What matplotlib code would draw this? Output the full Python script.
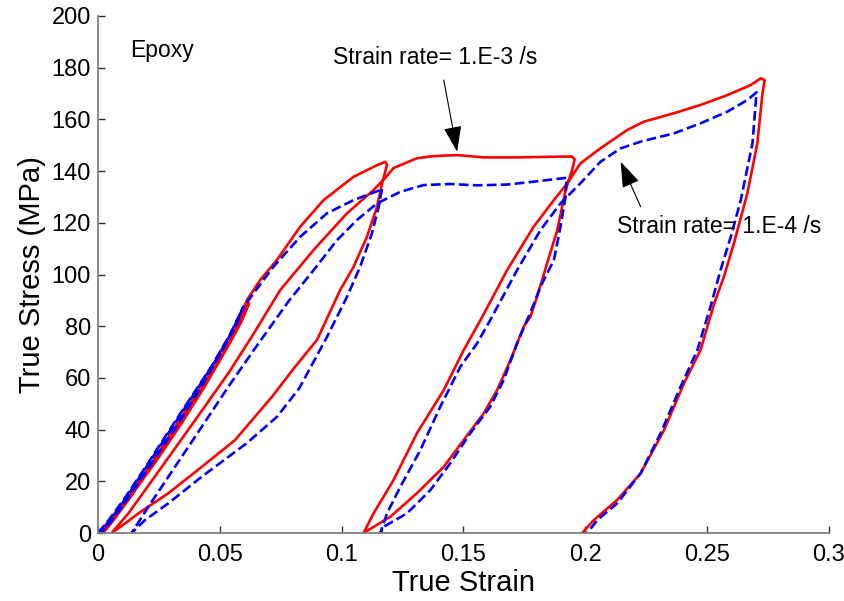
import matplotlib
matplotlib.use("Agg")
import matplotlib.pyplot as plt

plt.rcParams['font.family'] = ['Liberation Sans', 'DejaVu Sans']

# ---- data: strain rate 1.E-3 /s (red, solid) ----
red_strain = [0, 0.004, 0.012, 0.021, 0.030, 0.039, 0.048, 0.056, 0.062,
              0.059, 0.052, 0.044, 0.034, 0.024, 0.014, 0.006, 0.002,
              0.006, 0.013, 0.022, 0.031, 0.040, 0.049, 0.056, 0.0611, 0.0666, 0.0734, 0.0830, 0.0926, 0.1049, 0.115, 0.1179, 0.1186,
              0.1166, 0.1145, 0.1104, 0.1049, 0.0994, 0.0899, 0.0809, 0.0714, 0.0563, 0.0426, 0.0289, 0.0166, 0.0111, 0.0056,
              0.0125, 0.0262, 0.0399, 0.0535, 0.0635, 0.0748, 0.0885, 0.1022, 0.1131, 0.1180, 0.1213, 0.131, 0.1378, 0.1474, 0.1583, 0.172, 0.1898, 0.1946, 0.1956,
              0.1946, 0.1919, 0.1885, 0.1843, 0.1802, 0.1775, 0.1747, 0.1693, 0.1638, 0.1583, 0.1501, 0.1419, 0.1309, 0.12, 0.109,
              0.1131, 0.1213, 0.1309, 0.1419, 0.1501, 0.157, 0.1679, 0.1788, 0.1871, 0.1926, 0.198, 0.2062, 0.2172, 0.224, 0.2364, 0.2473, 0.2583, 0.2679, 0.272, 0.2736,
              0.2727, 0.2706, 0.2665, 0.261, 0.2569, 0.2528, 0.2473, 0.2405, 0.2323, 0.2227, 0.2131, 0.2035, 0.1987]
red_stress = [0, 4, 12.8, 25.5, 38.6, 51.5, 64.3, 77, 89,
              82, 70, 57, 42, 28, 15, 5, 0,
              4.5, 13.5, 26.5, 39.5, 52.5, 65.5, 77.5, 90.1, 97.9, 105.6, 118.5, 128.8, 137.8, 142.5, 143.6, 142.4,
              135.3, 126.2, 114.6, 103, 94, 74.7, 64.3, 52.7, 36, 25.6, 15.4, 7.6, 3.7, 0,
              7.6, 25.6, 43.7, 61.8, 76.5, 94, 109.5, 123.7, 132.7, 137.5, 141.2, 145, 145.8, 146.2, 145.3, 145.3, 145.6, 145.6, 144.5,
              140.4, 132.7, 117.2, 104.3, 91.4, 83.7, 79.8, 66.9, 55.3, 46.3, 36, 25.6, 15.4, 6.3, 0,
              7.6, 20.5, 38.6, 55.3, 70.8, 82.4, 101.7, 118.5, 128.8, 135.3, 143, 148.8, 155.9, 159.1, 162.4, 165.6, 169.4, 173.3, 175.9, 175.2,
              170.1, 150.8, 131.4, 112.1, 99.2, 88.5, 70.8, 57.9, 39.8, 23.1, 12.8, 5, 0]

# ---- data: strain rate 1.E-4 /s (blue, dashed) ----
blue_strain = [0, 0.004, 0.0105, 0.0195, 0.0285, 0.0375, 0.0465, 0.054, 0.0597,
               0.057, 0.050, 0.042, 0.032, 0.022, 0.013, 0.005, 0.001,
               0.005, 0.0115, 0.0205, 0.0295, 0.0385, 0.0475, 0.0545, 0.0597, 0.072, 0.083, 0.094, 0.1049, 0.1159, 0.1166,
               0.1152, 0.1124, 0.1076, 0.1022, 0.094, 0.0826, 0.0735, 0.061, 0.0426, 0.0289, 0.0193, 0.0138,
               0.0207, 0.0316, 0.0426, 0.0535, 0.0659, 0.0785, 0.0885, 0.0981, 0.1063, 0.1145, 0.1241, 0.1337, 0.1446, 0.1556, 0.1679, 0.1788, 0.1923,
               0.1919, 0.1898, 0.1871, 0.1816, 0.1782, 0.172, 0.1665, 0.161, 0.1528, 0.1446, 0.1364, 0.1268, 0.1172, 0.1159,
               0.1186, 0.1241, 0.1323, 0.1405, 0.1487, 0.1556, 0.161, 0.172, 0.1816, 0.1898, 0.198, 0.2062, 0.2145, 0.2227, 0.2364, 0.2473, 0.2583, 0.2665, 0.2703,
               0.2699, 0.2686, 0.2638, 0.2597, 0.2555, 0.2515, 0.246, 0.2391, 0.2309, 0.2227, 0.2131, 0.2049, 0.2008]
blue_stress = [0, 4.5, 12.8, 25.5, 38.6, 51.5, 64.3, 76.5, 87.5,
               81, 69, 56, 41, 27, 14.5, 4, 0,
               5, 13.5, 26.5, 39.5, 52.5, 65.5, 77, 87.5, 103, 114.6, 123.7, 128.8, 132.7, 133.3,
               126.2, 115.9, 103, 91.4, 75.9, 56, 45, 34.7, 21.8, 11.5, 5, 0,
               10.2, 25.6, 41.1, 56.6, 73.4, 90, 101.7, 113.3, 121.1, 127.5, 132, 134.6, 135, 134.5, 134.8, 135.9, 137.4,
               130.1, 118.5, 105.6, 95.3, 87, 73.4, 59.2, 48.9, 38.6, 27, 16.6, 7.6, 2.4, 0,
               7.6, 17.9, 32.1, 48.9, 64.3, 73.4, 82.4, 101.7, 117.2, 127.5, 135.3, 143.6, 148.8, 151.4, 154.6, 158.5, 163, 167.5, 170.5,
               166.2, 150.8, 128.8, 114.6, 101.7, 88, 70.8, 56.6, 38.6, 23.1, 11.5, 5, 0]

x_ticks = [0, 0.05, 0.1, 0.15, 0.2, 0.25, 0.3]
x_tick_labels = ['0', '0.05', '0.1', '0.15', '0.2', '0.25', '0.3']
y_ticks = [0, 20, 40, 60, 80, 100, 120, 140, 160, 180, 200]

fig = plt.figure(figsize=(8.45, 6.01), dpi=100)
ax = fig.add_axes([98/845, 1 - 533/601, (829 - 98)/845, (533 - 16)/601])

ax.plot(red_strain, red_stress, color='#ff0000', lw=1.9, solid_joinstyle='round')
ax.plot(blue_strain, blue_stress, color='#0000ff', lw=1.9, ls='--')

ax.set_xlim(0, 0.3)
ax.set_ylim(0, 200)
ax.set_xticks(x_ticks)
ax.set_xticklabels(x_tick_labels)
ax.set_yticks(y_ticks)

for s in ['top', 'right']:
    ax.spines[s].set_visible(False)
for s in ['left', 'bottom']:
    ax.spines[s].set_color('#808080')
    ax.spines[s].set_linewidth(1.3)

ax.tick_params(axis='both', direction='in', length=5, width=1, color='#303030', labelsize=17)
ax.tick_params(axis='x', pad=8)
ax.tick_params(axis='y', pad=5)

ax.set_xlabel('True Strain', fontsize=21, labelpad=2)
ax.set_ylabel('True Stress (MPa)', fontsize=21, labelpad=4)

ax.text(0.0131, 186.5, 'Epoxy', fontsize=16.5, va='center', ha='left')
ax.text(0.0965, 183.8, 'Strain rate= 1.E-3 /s', fontsize=16.5, va='center', ha='left')
ax.text(0.2128, 118.5, 'Strain rate= 1.E-4 /s', fontsize=16.5, va='center', ha='left')

arrow_style = '-|>,head_length=0.8,head_width=0.28'
ax.annotate('', xy=(0.1474, 147.5), xytext=(0.1419, 175.2),
            arrowprops=dict(arrowstyle=arrow_style, color='k', lw=0.8, mutation_scale=20,
                            shrinkA=0, shrinkB=0))
ax.annotate('', xy=(0.2145, 143.6), xytext=(0.2227, 126.2),
            arrowprops=dict(arrowstyle=arrow_style, color='k', lw=0.8, mutation_scale=20,
                            shrinkA=0, shrinkB=0))

fig.savefig('out.png', dpi=100)
